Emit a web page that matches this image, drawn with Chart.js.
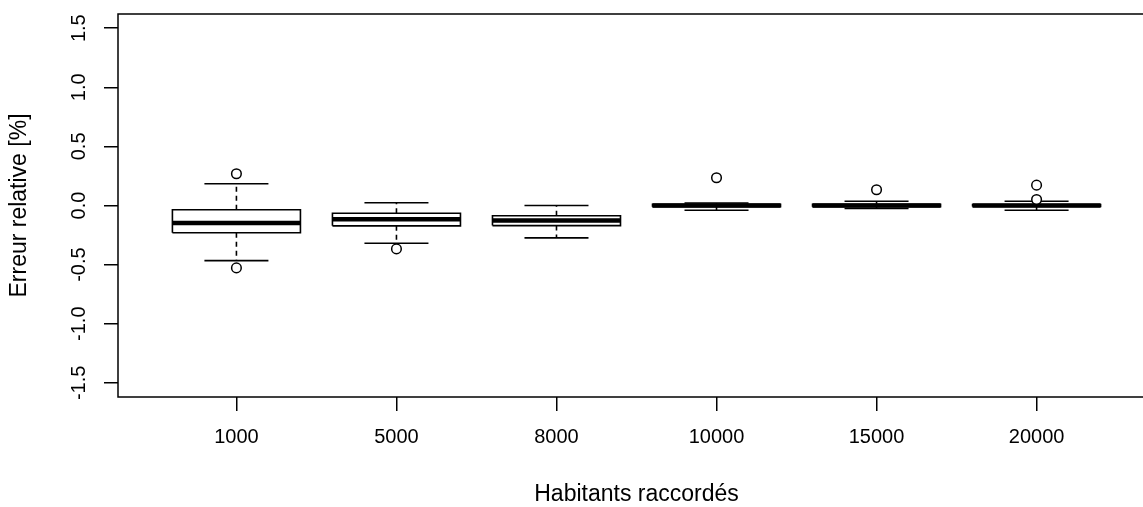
<!DOCTYPE html>
<html>
<head>
<meta charset="utf-8">
<script src="https://cdn.jsdelivr.net/npm/chart.js@4/dist/chart.umd.min.js"></script>
<style>
html,body{margin:0;padding:0;background:#fff;overflow:hidden;width:1143px;height:507px;}
canvas{display:block;}
</style>
</head>
<body>
<canvas id="c" width="1170" height="507"></canvas>
<script>
// ---- data ----
const categories = ['1000', '5000', '8000', '10000', '15000', '20000'];
const whiskerLow  = [-0.466, -0.319, -0.274, -0.040, -0.025, -0.040];
const q1          = [-0.231, -0.172, -0.170, -0.010, -0.010, -0.008];
const median      = [-0.147, -0.116, -0.127,  0.000,  0.000,  0.000];
const q3          = [-0.036, -0.065, -0.087,  0.010,  0.010,  0.008];
const whiskerHigh = [ 0.184,  0.023,  0.000,  0.021,  0.036,  0.036];
const outliers    = [[0.269, -0.528], [-0.367], [], [0.235], [0.133], [0.172, 0.051]];
const yTicks = [-1.5, -1.0, -0.5, 0.0, 0.5, 1.0, 1.5];

// ---- style constants ----
const BOX_HALF = 0.4, CAP_HALF = 0.2;
const FONT = '"Liberation Sans", Arial, sans-serif';

const xs = categories.map((_, i) => i + 1);
const gap = x => ({x: x, y: null});

const boxPts = [], medPts = [], whiskPts = [], capPts = [], outPts = [];
xs.forEach((x, i) => {
  boxPts.push({x: x - BOX_HALF, y: q1[i]}, {x: x + BOX_HALF, y: q1[i]},
              {x: x + BOX_HALF, y: q3[i]}, {x: x - BOX_HALF, y: q3[i]},
              {x: x - BOX_HALF, y: q1[i]}, gap(x));
  medPts.push({x: x - BOX_HALF, y: median[i]}, {x: x + BOX_HALF, y: median[i]}, gap(x));
  whiskPts.push({x: x, y: q3[i]}, {x: x, y: whiskerHigh[i]}, gap(x),
                {x: x, y: q1[i]}, {x: x, y: whiskerLow[i]}, gap(x));
  capPts.push({x: x - CAP_HALF, y: whiskerHigh[i]}, {x: x + CAP_HALF, y: whiskerHigh[i]}, gap(x),
              {x: x - CAP_HALF, y: whiskerLow[i]}, {x: x + CAP_HALF, y: whiskerLow[i]}, gap(x));
  outliers[i].forEach(v => outPts.push({x: x, y: v}));
});

const lineDs = (data, width, dash) => ({
  data, showLine: true, spanGaps: false, borderColor: '#000', borderWidth: width,
  borderDash: dash || [], pointRadius: 0, pointHoverRadius: 0, tension: 0, fill: false,
  borderCapStyle: 'butt', borderJoinStyle: 'miter'
});

const frame = {
  id: 'frame',
  afterDraw(chart) {
    const {ctx, chartArea: a} = chart;
    ctx.save();
    ctx.strokeStyle = '#000';
    ctx.lineWidth = 1.5;
    ctx.strokeRect(a.left, a.top, a.right - a.left, a.bottom - a.top);
    ctx.restore();
  }
};

new Chart(document.getElementById('c'), {
  type: 'scatter',
  data: {
    datasets: [
      {data: outPts, showLine: false, pointStyle: 'circle', pointRadius: 4.8, pointHoverRadius: 4.8,
       pointBackgroundColor: '#fff', pointBorderColor: '#000', pointBorderWidth: 1.5},
      lineDs(medPts, 4.5),
      lineDs(boxPts, 1.6),
      lineDs(capPts, 1.6),
      lineDs(whiskPts, 1.6, [5, 4])
    ]
  },
  options: {
    responsive: false,
    animation: false,
    events: [],
    layout: {padding: {left: 0, top: 14, right: 15, bottom: 0}},
    plugins: {legend: {display: false}, tooltip: {enabled: false}},
    scales: {
      x: {
        type: 'linear', min: 0.26, max: 6.74,
        afterBuildTicks: s => { s.ticks = xs.map(v => ({value: v})); },
        afterFit: s => { s.height = 110; s.paddingLeft = 0; s.paddingRight = 0; },
        border: {display: false},
        grid: {drawOnChartArea: false, drawTicks: true, tickLength: 14, color: '#000', lineWidth: 1.5},
        ticks: {
          autoSkip: false, maxRotation: 0, minRotation: 0, padding: 14, color: '#000',
          font: {family: FONT, size: 20},
          callback: v => categories[v - 1]
        },
        title: {display: true, text: 'Habitants raccordés', color: '#000',
                font: {family: FONT, size: 23, lineHeight: 1}, padding: {top: 0, bottom: 0.5}}
      },
      y: {
        type: 'linear', min: -1.62, max: 1.62,
        afterBuildTicks: s => { s.ticks = yTicks.map(v => ({value: v})); },
        afterFit: s => { s.width = 118; s.paddingTop = 0; s.paddingBottom = 0; },
        border: {display: false},
        grid: {drawOnChartArea: false, drawTicks: true, tickLength: 14, color: '#000', lineWidth: 1.5},
        ticks: {
          minRotation: 90, maxRotation: 90, crossAlign: 'center', padding: 6.8, color: '#000',
          font: {family: FONT, size: 20},
          callback: v => v.toFixed(1)
        },
        title: {display: true, text: 'Erreur relative [%]', color: '#000',
                font: {family: FONT, size: 23, lineHeight: 1}, padding: {top: 8.5, bottom: 0}}
      }
    }
  },
  plugins: [frame]
});
</script>
</body>
</html>
